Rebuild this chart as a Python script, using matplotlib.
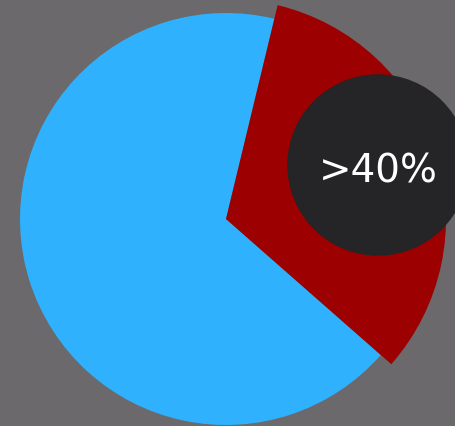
import matplotlib
matplotlib.use("Agg")
import matplotlib.pyplot as plt

# shares (red slice ~ 117.6 deg)
labels = ["highlight", "rest"]
shares = [0.327, 0.673]
colors = ["#9c0000", "#30b1fd"]
badge_text = ">40%"

W, H = 456, 427
fig = plt.figure(figsize=(W / 100, H / 100), dpi=100)
fig.patch.set_facecolor("#6b696b")
ax = fig.add_axes([0, 0, 1, 1])

wedges, _ = ax.pie(shares, colors=colors, radius=206, center=(226, 207),
                   startangle=-41.3, counterclock=True,
                   wedgeprops=dict(linewidth=0))
# pulled-out slice is a bit bigger than the rest
wedges[0].set_radius(220)
wedges[0].set_zorder(2)

badge = plt.Circle((378, H - 166), 90, color="#252427", zorder=3)
ax.add_patch(badge)
ax.text(378, H - 172, badge_text, color="white", fontsize=28,
        family="DejaVu Sans", ha="center", va="center", zorder=4)

ax.set_xlim(0, W)
ax.set_ylim(0, H)
ax.set_aspect("equal")
ax.axis("off")

fig.savefig("out.png", dpi=100, facecolor=fig.get_facecolor())
